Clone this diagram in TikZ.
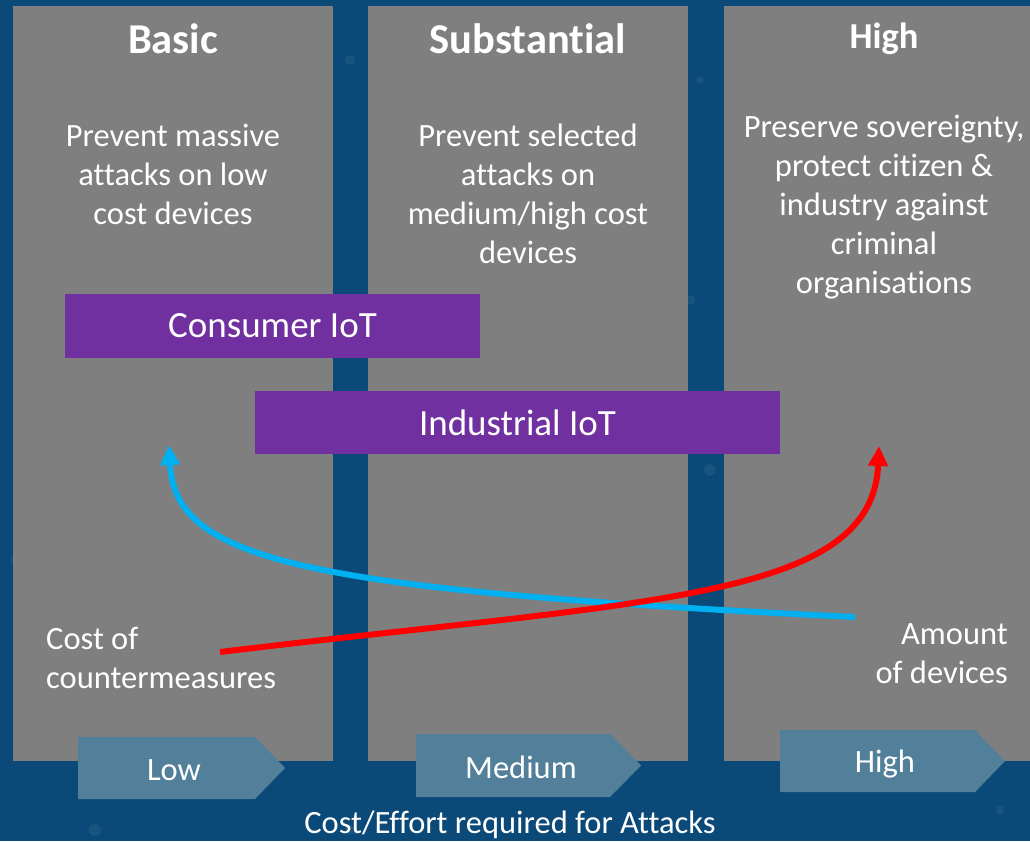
\documentclass[tikz,border=0pt]{standalone}
\usepackage{fontspec}
\setmainfont[Ligatures=NoCommon]{Carlito}
\usetikzlibrary{arrows.meta}
\definecolor{bgblue}{HTML}{0B4A78}
\definecolor{colgray}{HTML}{7F7F7F}
\definecolor{iotpurple}{HTML}{7030A0}
\definecolor{chevblue}{HTML}{52809A}
\definecolor{curveblue}{HTML}{00B0F0}
\definecolor{curvered}{HTML}{FF0000}
\begin{document}
\begin{tikzpicture}[x=1pt,y=-1pt,
  colbox/.style={fill=colgray,draw=none},
  title/.style={text=white,font=\bfseries\fontsize{42.5}{50}\selectfont,anchor=base,inner sep=0},
  body/.style={text=white,font=\fontsize{32.5}{39}\selectfont,align=center,anchor=base,inner sep=0},
  iotbox/.style={fill=iotpurple,draw=none,text=white,font=\fontsize{37}{44}\selectfont,inner sep=0},
  chev/.style={fill=chevblue,draw=none},
  chevtext/.style={text=white,font=\fontsize{32.5}{39}\selectfont,inner sep=0},
  curve/.style={line width=6pt,-{Triangle[width=19pt,length=20pt]}}
]
\useasboundingbox (0,0) rectangle (1030,841);
\fill[bgblue] (0,0) rectangle (1030,841);
% faint background dots
\foreach \px/\py/\r in {20/430/6, 350/60/5, 700/80/4, 990/320/7, 350/830/5, 95/830/6, 1000/810/4, 690/300/5, 15/560/4, 710/470/6}
  \fill[white,opacity=0.06] (\px,\py) circle (\r);
% columns
\path[colbox] (13,6) rectangle (333,761);
\path[colbox] (368,6) rectangle (688,761);
\path[colbox] (724,6) rectangle (1030,761);
% titles
\node[title] (tbasic) at (173,53) {Basic};
\node[title] (tsubst) at (528,53) {Substantial};
\node[title,font=\bfseries\fontsize{36.5}{44}\selectfont] (thigh) at (884,48) {High};
% descriptions (base anchor = last line baseline)
\node[body] (dbasic) at (173,224) {Prevent massive\\attacks on low\\cost devices};
\node[body] (dsubst) at (528,263) {Prevent selected\\attacks on\\medium/high cost\\devices};
\node[body] (dhigh) at (884,293) {Preserve sovereignty,\\protect citizen \&\\industry against\\criminal\\organisations};
% IoT boxes
\node[iotbox,minimum width=415pt,minimum height=64pt] (consumer) at (272.5,326) {Consumer IoT};
\node[iotbox,minimum width=525pt,minimum height=63pt] (industrial) at (517.5,422.5) {Industrial IoT};
% labels
\node[body,align=left,anchor=base west] (costlbl) at (46,688) {Cost of\\countermeasures};
\node[body,align=right,anchor=base east] (amountlbl) at (1008,683) {Amount\\of devices};
% curves
\coordinate (bstart) at (855,617);
\coordinate (bend) at (169,445);
\coordinate (rstart) at (220,652);
\coordinate (rend) at (879,446);
\draw[curve,curveblue] (bstart) .. controls (300,590) and (175,560) .. (bend);
\draw[curve,curvered] (rstart) .. controls (650,600) and (872,600) .. (rend);
% chevrons
\path[chev] (78,737) -- (255,737) -- (285,768) -- (255,799) -- (78,799) -- cycle;
\path[chev] (416,734) -- (610,734) -- (641,765.5) -- (610,797) -- (416,797) -- cycle;
\path[chev] (780,730) -- (975,730) -- (1005,761) -- (975,792) -- (780,792) -- cycle;
\node[chevtext] (low) at (174,770) {Low};
\node[chevtext] (medium) at (521,767) {Medium};
\node[chevtext] (high) at (885,764) {High};
% axis label
\node[chevtext] (axis) at (510,825) {Cost/Effort required for Attacks};
\end{tikzpicture}
\end{document}
